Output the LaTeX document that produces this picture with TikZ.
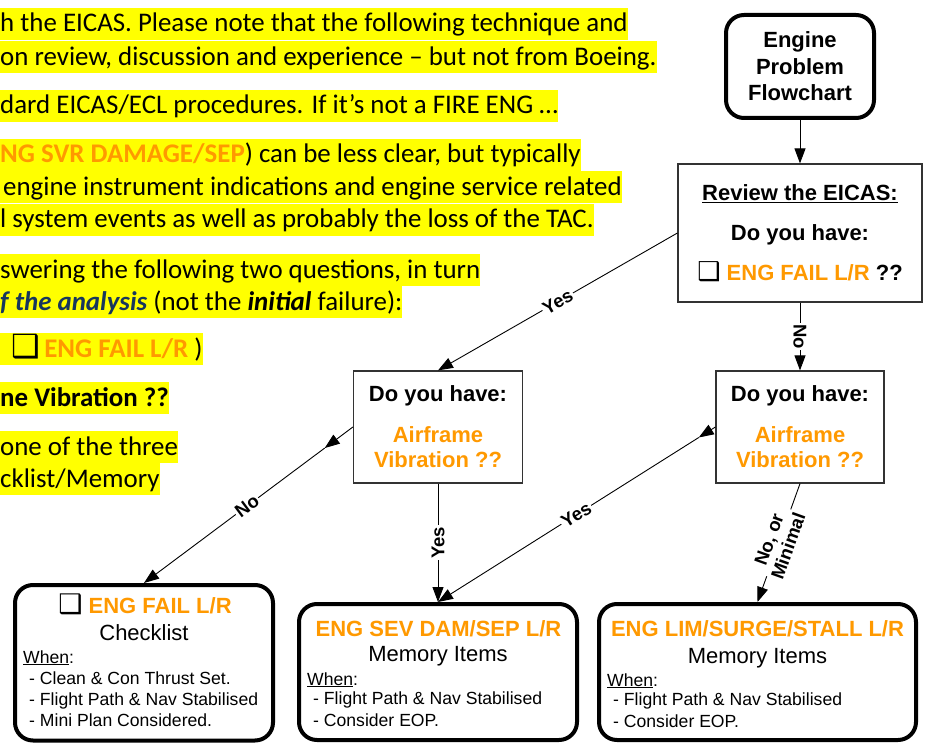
\documentclass[tikz,border=0pt]{standalone}
\usepackage{fontspec}
\setmainfont{Liberation Sans}
\newfontfamily\carl{Carlito}
\newfontfamily\dejavu{DejaVu Sans}
\usetikzlibrary{arrows.meta,calc}
\definecolor{eorange}{RGB}{255,153,0}
\definecolor{hiyel}{RGB}{255,255,0}
\definecolor{navyb}{RGB}{23,54,93}
\newcommand{\chkbox}[1]{\smash{\dejavu\fontsize{#1}{#1}\selectfont ❑}}
\begin{document}
\begin{tikzpicture}[x=1pt,y=-1pt,
  hl/.style={anchor=west, fill=hiyel, inner xsep=0pt, inner ysep=0pt, text height=24pt, text depth=8pt, font=\carl\fontsize{26.9}{32}\selectfont},
  thinbox/.style={draw=black!80, line width=1.2pt, fill=white, inner sep=0pt, align=center, font=\bfseries\fontsize{22}{25}\selectfont},
  thickbox/.style={draw=black, line width=4pt, rounded corners=18pt, fill=white, inner sep=0pt},
  conn/.style={draw=black, line width=0.9pt, -{Triangle[length=15pt,width=11pt]}},
  lbl/.style={font=\bfseries\fontsize{18.5}{19}\selectfont, fill=white, inner sep=1.5pt},
  ttl/.style={anchor=base, inner sep=0pt, font=\bfseries\fontsize{22}{25}\selectfont, text=eorange},
  sub/.style={anchor=base, inner sep=0pt, font=\fontsize{22}{25}\selectfont},
  item/.style={anchor=base west, inner sep=0pt, font=\fontsize{17.6}{21}\selectfont}
]
\path[use as bounding box, fill=white] (0,0) rectangle (925,743);

% background highlighted text
\node[hl] (t1) at (0,24) {h the EICAS. Please note that the following technique and};
\node[hl] (t2) at (0,57.5) {on review, discussion and experience – but not from Boeing.};
\node[hl] (t3) at (0,106) {dard EICAS/ECL procedures. If it’s not a FIRE ENG …};
\node[hl] (t4) at (0,155) {\textcolor{eorange}{\textbf{NG SVR DAMAGE/SEP}}) can be less clear, but typically};
\node[hl] (t5) at (0,187.5) {\hspace{3pt}engine instrument indications and engine service related};
\node[hl] (t6) at (0,220) {l system events as well as probably the loss of the TAC.};
\node[hl] (t7) at (0,270) {swering the following two questions, in turn};
\node[hl] (t8) at (0,302) {\textcolor{navyb}{\textbf{\textit{f the analysis}}} (not the \textbf{\textit{initial}} failure):};
\node[hl] (t9) at (0,349) {\hspace{11pt}\chkbox{32}\,\textcolor{eorange}{\textbf{ENG FAIL L/R}} )};
\node[hl] (t10) at (0,398) {\textbf{ne Vibration ??}};
\node[hl] (t11) at (0,447) {one of the three};
\node[hl] (t12) at (0,479) {cklist/Memory};

% flowchart boxes
\node[thickbox, minimum width=148pt, minimum height=103pt, align=center, font=\bfseries\fontsize{22}{26.5}\selectfont] (eng) at (800,66.5) {Engine\\Problem\\Flowchart};
\node[thinbox, minimum width=244pt, minimum height=138pt] (rev) at (800,233)
  {\underline{Review the EICAS:}\\[15pt]Do you have:\\[15pt]\chkbox{26}\ \textcolor{eorange}{ENG FAIL L/R} ??};
\node[thinbox, minimum width=169pt, minimum height=112pt] (dyhL) at (438,427)
  {Do you have:\\[16pt]\textcolor{eorange}{Airframe}\\\textcolor{eorange}{Vibration ??}};
\node[thinbox, minimum width=168pt, minimum height=112pt] (dyhR) at (800,427)
  {Do you have:\\[16pt]\textcolor{eorange}{Airframe}\\\textcolor{eorange}{Vibration ??}};

\node[thickbox, minimum width=258pt, minimum height=155.5pt] (ecl) at (144,662.75) {};
\node[thickbox, minimum width=278pt, minimum height=136pt] (sev) at (438,672) {};
\node[thickbox, minimum width=317pt, minimum height=136pt] (lim) at (757.5,672) {};

% ECL contents
\node[ttl] (eclT) at (145,613) {\textcolor{black}{\chkbox{27}}\ ENG FAIL L/R};
\node[sub] (eclS) at (144,640) {Checklist};
\node[item] (eclW) at (23,663) {\underline{When}:};
\node[item] (eclI1) at (29,684) {- Clean \& Con Thrust Set.};
\node[item] (eclI2) at (29,705) {- Flight Path \& Nav Stabilised};
\node[item] (eclI3) at (29,726.5) {- Mini Plan Considered.};

% SEV contents
\node[ttl] (sevT) at (438.5,636) {ENG SEV DAM/SEP L/R};
\node[sub] (sevS) at (438,661) {Memory Items};
\node[item] (sevW) at (307,685) {\underline{When}:};
\node[item] (sevI1) at (313,704.5) {- Flight Path \& Nav Stabilised};
\node[item] (sevI2) at (313,726.5) {- Consider EOP.};

% LIM contents
\node[ttl] (limT) at (757.5,636) {ENG LIM/SURGE/STALL L/R};
\node[sub] (limS) at (757.5,663) {Memory Items};
\node[item] (limW) at (607,686) {\underline{When}:};
\node[item] (limI1) at (613,705.5) {- Flight Path \& Nav Stabilised};
\node[item] (limI2) at (613,727.5) {- Consider EOP.};

% connectors
\draw[conn] (eng.south) -- (rev.north);
\draw[conn] (rev.west) -- node[lbl, sloped] (lYes1) {Yes} (dyhL.north);
\draw[conn] (rev.south) -- node[lbl, sloped] (lNo1) {No} (dyhR.north);
\coordinate (m1) at ($(dyhL.west)!0.135!(ecl.north)$);
\draw[conn] (dyhL.west) -- (m1);
\draw[conn] (m1) -- node[lbl, sloped, pos=0.43] (lNo2) {No} (ecl.north);
\draw[conn] (dyhL.south) -- node[lbl, rotate=90] (lYes2) {Yes} (sev.north);
\coordinate (m2) at ($(dyhR.west)!0.06!(sev.north)$);
\draw[conn] (dyhR.west) -- (m2);
\draw[conn] (m2) -- node[lbl, sloped, pos=0.47] (lYes3) {Yes} (sev.north);
\draw[conn] (dyhR.south) -- node[lbl, sloped, align=center, inner sep=1pt, font=\bfseries\fontsize{18.5}{20.5}\selectfont] (lNo3) {No, or\\Minimal} (lim.north);
\end{tikzpicture}
\end{document}
